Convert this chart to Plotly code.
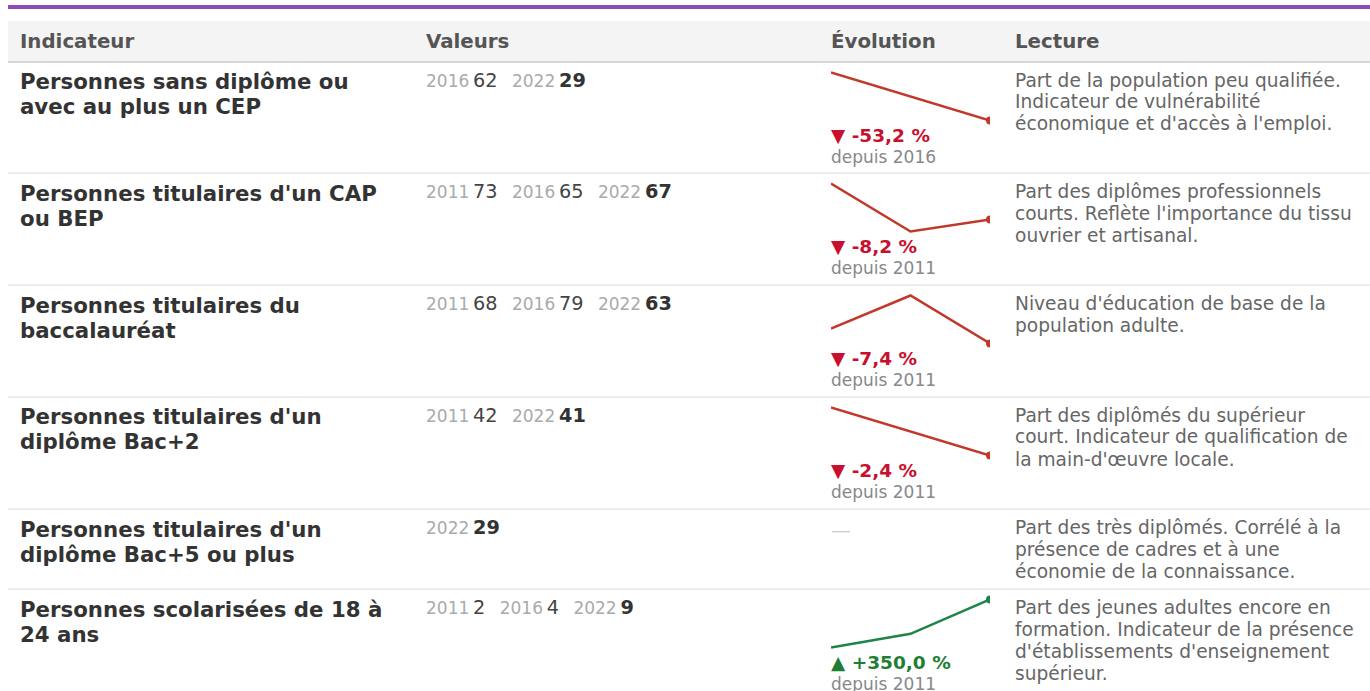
import plotly.graph_objects as go

# ---------------- data ----------------
headers = ["Indicateur", "Valeurs", "Évolution", "Lecture"]

indicators = [
    "Personnes sans diplôme ou<br>avec au plus un CEP",
    "Personnes titulaires d'un CAP<br>ou BEP",
    "Personnes titulaires du<br>baccalauréat",
    "Personnes titulaires d'un<br>diplôme Bac+2",
    "Personnes titulaires d'un<br>diplôme Bac+5 ou plus",
    "Personnes scolarisées de 18 à<br>24 ans",
]

years = [
    [2016, 2022],
    [2011, 2016, 2022],
    [2011, 2016, 2022],
    [2011, 2022],
    [2022],
    [2011, 2016, 2022],
]

values = [
    [62, 29],
    [73, 65, 67],
    [68, 79, 63],
    [42, 41],
    [29],
    [2, 4, 9],
]

lectures = [
    "Part de la population peu qualifiée.<br>Indicateur de vulnérabilité<br>économique et d'accès à l'emploi.",
    "Part des diplômes professionnels<br>courts. Reflète l'importance du tissu<br>ouvrier et artisanal.",
    "Niveau d'éducation de base de la<br>population adulte.",
    "Part des diplômés du supérieur<br>court. Indicateur de qualification de<br>la main-d'œuvre locale.",
    "Part des très diplômés. Corrélé à la<br>présence de cadres et à une<br>économie de la connaissance.",
    "Part des jeunes adultes encore en<br>formation. Indicateur de la présence<br>d'établissements d'enseignement<br>supérieur.",
]

# ---------------- layout constants ----------------
W, H = 1370, 691
FONT = "DejaVu Sans"


def fx(p):
    return p / W


def fy(p):
    return 1 - p / H


row_tops = [62, 173, 285, 397, 509, 589]
col_x = [18, 424, 829, 1013]
spark_x0, spark_x1 = 831, 990
spark_top_off, spark_h = 10.5, 48
pad = 5

RED_LINE = "#c0392b"
RED_TXT = "#c8102e"
GREEN_LINE = "#1e8449"
GREEN_TXT = "#1e7e34"

fig = go.Figure()
shapes = []
annotations = []

# purple top bar
shapes.append(dict(type="rect", xref="paper", yref="paper", x0=fx(8), x1=fx(W + 5),
                   y0=fy(9), y1=fy(5), fillcolor="#8e4bb3", line_width=0, layer="below"))
# header background
shapes.append(dict(type="rect", xref="paper", yref="paper", x0=fx(8), x1=fx(W + 5),
                   y0=fy(61), y1=fy(21), fillcolor="#f4f4f4", line_width=0, layer="below"))
# header bottom border
shapes.append(dict(type="line", xref="paper", yref="paper", x0=fx(8), x1=fx(W + 5),
                   y0=fy(62), y1=fy(62), line=dict(color="#d6d6d6", width=2)))
# row separators
for rt in row_tops[1:]:
    shapes.append(dict(type="line", xref="paper", yref="paper", x0=fx(8), x1=fx(W + 5),
                       y0=fy(rt), y1=fy(rt), line=dict(color="#ececec", width=2)))


def add_text(x, y, text, size, color, bold=False):
    annotations.append(dict(
        xref="paper", yref="paper", x=fx(x), y=fy(y), xanchor="left", yanchor="middle",
        text=f"<b>{text}</b>" if bold else text, showarrow=False,
        font=dict(family=FONT, size=size, color=color), align="left",
    ))


# headers
for hx, ht in zip(col_x, headers):
    add_text(hx, 41, ht, 19.8, "#555555", bold=True)

ax_k = 0
for i, rt in enumerate(row_tops):
    # indicator label
    for li, line in enumerate(indicators[i].split("<br>")):
        add_text(col_x[0], rt + 20 + 25 * li, line, 21.3, "#333333", bold=True)

    # values
    yrs, vals = years[i], values[i]
    n = len(vals)
    parts = []
    for j, (yr, v) in enumerate(zip(yrs, vals)):
        vt = f"<b>{v}</b>" if j == n - 1 else f"{v}"
        vc = "#333333" if j == n - 1 else "#444444"
        parts.append(
            f"<span style='color:#aaaaaa;font-size:17px'>{yr}</span>"
            f"<span style='font-size:12px'>\u00a0</span>"
            f"<span style='color:{vc};font-size:19.3px'>{vt}</span>"
        )
    vtext = "<span style='font-size:15px'>\u00a0\u00a0\u00a0</span>".join(parts)
    add_text(col_x[1], rt + 18, vtext, 19, "#444444")

    # lecture
    for li, line in enumerate(lectures[i].split("<br>")):
        add_text(col_x[3], rt + 18 + 22 * li, line, 18.6, "#666666")

    # evolution
    if n >= 2:
        ax_k += 1
        change = (vals[-1] - vals[0]) / vals[0] * 100
        up = change >= 0
        lc = GREEN_LINE if up else RED_LINE
        tc = GREEN_TXT if up else RED_TXT
        vmin, vmax = min(vals), max(vals)
        span = (vmax - vmin) or 1
        ppu = span / spark_h
        top_px = rt + spark_top_off - pad
        bot_px = rt + spark_top_off + spark_h + pad
        xa = "xaxis" if ax_k == 1 else f"xaxis{ax_k}"
        ya = "yaxis" if ax_k == 1 else f"yaxis{ax_k}"
        xr = "x" if ax_k == 1 else f"x{ax_k}"
        yr_ = "y" if ax_k == 1 else f"y{ax_k}"
        fig.update_layout(**{
            xa: dict(domain=[fx(spark_x0), fx(spark_x1)], range=[0, n - 1], visible=False,
                     fixedrange=True, anchor=yr_),
            ya: dict(domain=[fy(bot_px), fy(top_px)],
                     range=[vmin - pad * ppu, vmax + pad * ppu], visible=False,
                     fixedrange=True, anchor=xr),
        })
        fig.add_trace(go.Scatter(x=list(range(n)), y=vals, mode="lines",
                                 line=dict(color=lc, width=2.5), xaxis=xr, yaxis=yr_,
                                 hoverinfo="skip", showlegend=False))
        fig.add_trace(go.Scatter(x=[n - 1], y=[vals[-1]], mode="markers",
                                 marker=dict(color=lc, size=8), xaxis=xr, yaxis=yr_,
                                 hoverinfo="skip", showlegend=False, cliponaxis=True))
        arrow = "▲" if up else "▼"
        sign = "+" if up else "-"
        pct = f"{abs(change):.1f}".replace(".", ",")
        add_text(col_x[2], rt + 73, f"{arrow} {sign}{pct} %", 18.5, tc, bold=True)
        add_text(col_x[2], rt + 95, f"depuis {yrs[0]}", 17, "#888888")
    else:
        add_text(col_x[2], rt + 21, "—", 20, "#cccccc")

fig.update_layout(
    width=W, height=H,
    margin=dict(l=0, r=0, t=0, b=0),
    paper_bgcolor="white", plot_bgcolor="rgba(0,0,0,0)",
    shapes=shapes, annotations=annotations,
    showlegend=False, font=dict(family=FONT),
)

fig.write_html("out.html", config={"displayModeBar": False},
               post_script="document.body.style.margin='0';")
